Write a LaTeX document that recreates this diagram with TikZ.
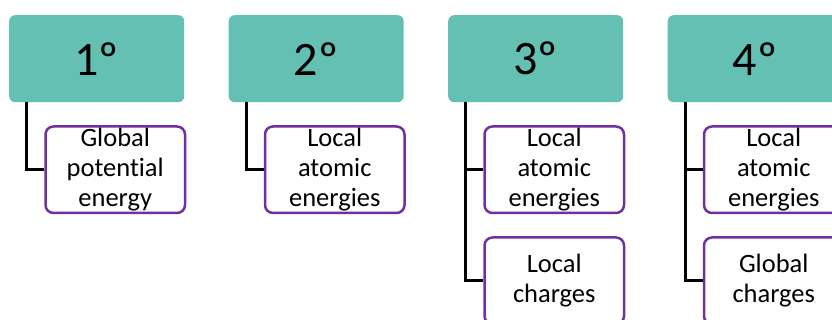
\documentclass[tikz,border=0pt]{standalone}
\usepackage{fontspec}
\setmainfont{Carlito}[Ligatures=NoCommon]
\definecolor{teal1}{HTML}{63C0B3}
\definecolor{purp}{HTML}{7030A0}
\begin{document}
\begin{tikzpicture}[x=1pt,y=-1pt,
  header/.style={fill=teal1,draw=none,rounded corners=6pt,minimum width=175pt,minimum height=87pt,
    anchor=north west,inner sep=0pt,font=\fontsize{48}{52}\selectfont},
  subbox/.style={draw=purp,line width=2.5pt,fill=white,rounded corners=8pt,minimum width=139.5pt,
    minimum height=86.5pt,anchor=north west,inner sep=0pt,align=center,font=\fontsize{26.5}{30}\selectfont},
  link/.style={draw=black,line width=3pt}]
\useasboundingbox (0,0) rectangle (832,320);
\begin{scope}
\clip (0,0) rectangle (832,320);
\node[header] (h1) at (9,15) {1º};
\node[header] (h2) at (228.5,15) {2º};
\node[header] (h3) at (448,15) {3º};
\node[header] (h4) at (667.5,15) {4º};
\node[subbox] (s1a) at (44.25,125.25) {Global\\potential\\energy};
\node[subbox] (s2a) at (263.75,125.25) {Local\\atomic\\energies};
\node[subbox] (s3a) at (483.25,125.25) {Local\\atomic\\energies};
\node[subbox] (s3b) at (483.25,236.25) {Local\\charges};
\node[subbox] (s4a) at (702.75,125.25) {Local\\atomic\\energies};
\node[subbox] (s4b) at (702.75,236.25) {Global\\charges};
\draw[link] ([xshift=17.5pt]h1.south west) |- (s1a.west);
\draw[link] ([xshift=17.5pt]h2.south west) |- (s2a.west);
\draw[link] ([xshift=17.5pt]h3.south west) |- (s3a.west);
\draw[link] ([xshift=17.5pt]h3.south west) |- (s3b.west);
\draw[link] ([xshift=17.5pt]h4.south west) |- (s4a.west);
\draw[link] ([xshift=17.5pt]h4.south west) |- (s4b.west);
\end{scope}
\end{tikzpicture}
\end{document}
